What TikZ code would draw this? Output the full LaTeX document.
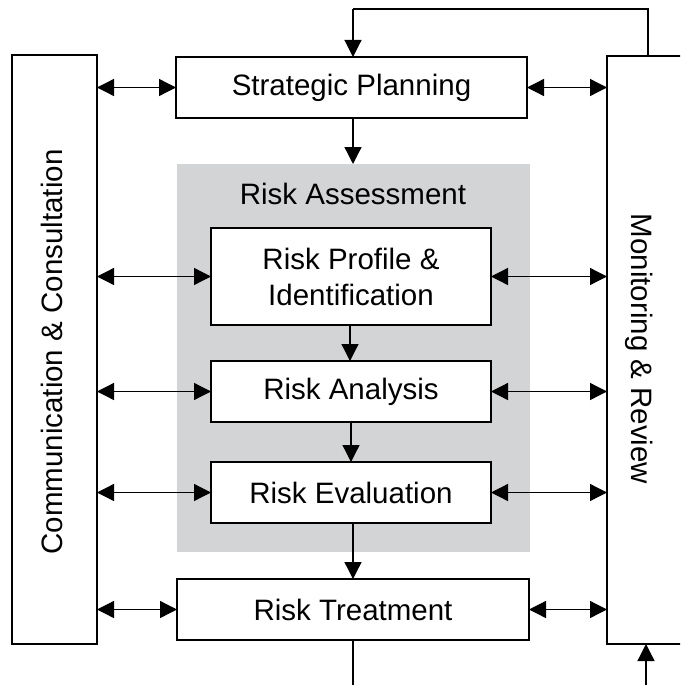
\documentclass[tikz,border=0pt]{standalone}
\usepackage{fontspec}
\setmainfont{Liberation Sans}
\usetikzlibrary{arrows.meta}
\definecolor{panelgray}{RGB}{211,212,214}
\begin{document}
\begin{tikzpicture}[x=1pt,y=-1pt,
  every node/.style={font=\fontsize{29.5}{36}\selectfont, inner sep=0pt, outer sep=0pt},
  box/.style={draw=black, line width=2pt, fill=white, align=center},
  conn/.style={line width=1.3pt, -{Triangle[length=17pt,width=17pt]}},
  dconn/.style={line width=1.3pt, {Triangle[length=17pt,width=17pt]}-{Triangle[length=17pt,width=17pt]}},
  fb/.style={line width=1.1pt}]
\clip (0,0) rectangle (680,685);
\fill[white] (0,0) rectangle (680,685);
% side boxes
\node[box, minimum width=85pt, minimum height=589pt] (cc) at (54.5,349.5) {};
\node[rotate=90] (cclabel) at (52,352) {Communication \& Consultation};
\node[box, minimum width=110pt, minimum height=588pt] (mr) at (662,350) {};
\node[rotate=-90] (mrlabel) at (639,349) {Monitoring \& Review};
% gray panel
\node[fill=panelgray, minimum width=353pt, minimum height=388pt] (ra) at (353.5,358) {};
\node (ralabel) at (353,194) {Risk Assessment};
% main boxes
\node[box, minimum width=351pt, minimum height=61pt] (sp) at (351.5,87.5) {Strategic Planning};
\node[box, minimum width=280pt, minimum height=97pt] (rp) at (351,276.5) {Risk Profile \&\\Identification};
\node[box, minimum width=280pt, minimum height=61pt] (ran) at (351,391.5) {Risk Analysis};
\node[box, minimum width=280pt, minimum height=61pt] (rev) at (351,492.5) {Risk Evaluation};
\node[box, minimum width=352pt, minimum height=61pt] (rt) at (353,609.5) {Risk Treatment};
% vertical flow
\draw[conn] (sp.south -| 353,0) -- (ra.north -| 353,0);
\draw[conn] (rp.south -| 350,0) -- (ran.north -| 350,0);
\draw[conn] (ran.south -| 351,0) -- (rev.north -| 351,0);
\draw[conn] (rev.south -| 353,0) -- (rt.north -| 353,0);
% double arrows left and right
\foreach \n in {sp,rp,ran,rev,rt}{
  \draw[dconn] (cc.east |- \n.west) -- (\n.west);
  \draw[dconn] (\n.east) -- (mr.west |- \n.east);
}
% feedback loop
\coordinate (fbr) at (648,9);
\coordinate (fbl) at (353,9);
\draw[fb] (mr.north -| fbr) -- (fbr) -- (fbl);
\draw[conn, line width=1.1pt] (fbl) -- (sp.north -| fbl);
% bottom lines
\coordinate (rtout) at (353,690);
\draw[line width=1.3pt] (rt.south -| rtout) -- (rtout);
\coordinate (mrin) at (646,690);
\draw[conn] (mrin) -- (mr.south -| mrin);
\end{tikzpicture}
\end{document}
